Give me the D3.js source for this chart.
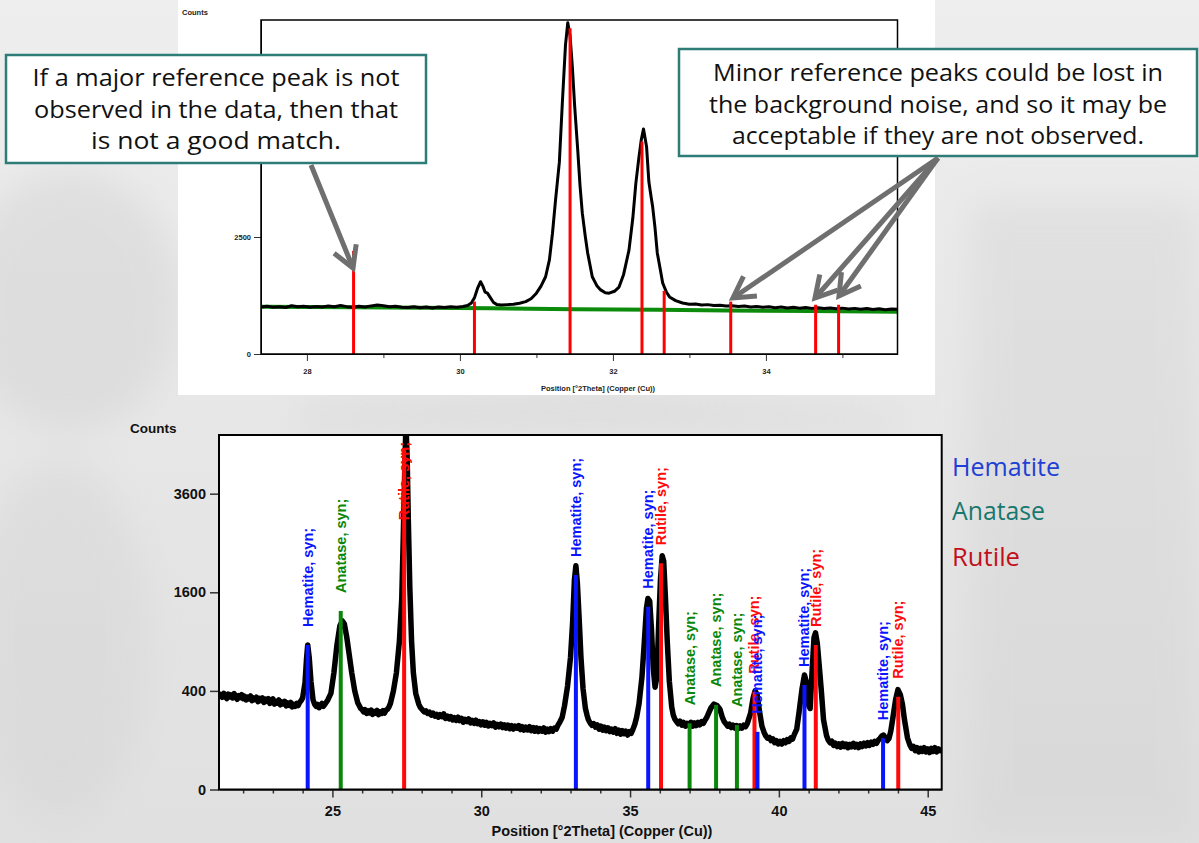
<!DOCTYPE html>
<html><head><meta charset="utf-8">
<script src="https://cdn.jsdelivr.net/npm/d3@7"></script>
<style>html,body{margin:0;padding:0;overflow:hidden;background:#e6e6e6}</style>
</head><body><svg id="c" width="1199" height="843"></svg>
<script>
// ---------- TOP CHART DATA ----------
const topTicksX = [28, 30, 32, 34];
const topMinorX = [29, 31, 33, 35];
const topTicksY = [0, 2500];
const topPattern = [[27.40,1005],[27.48,1020],[27.56,1000],[27.64,1012],[27.72,995],[27.80,1030],[27.88,1008],[27.96,1018],[28.04,1000],[28.12,1015],[28.20,1005],[28.28,1025],[28.36,1010],[28.44,1035],[28.52,1012],[28.60,1000],[28.68,1018],[28.76,1005],[28.84,1028],[28.92,1045],[29.00,1030],[29.08,1010],[29.16,1022],[29.24,1000],[29.32,995],[29.40,1008],[29.48,990],[29.56,1005],[29.64,985],[29.72,1002],[29.80,995],[29.88,1010],[29.96,1000],[30.04,1015],[30.10,1035],[30.15,1090],[30.19,1200],[30.23,1400],[30.27,1545],[30.30,1450],[30.33,1320],[30.36,1300],[30.40,1200],[30.44,1100],[30.48,1060],[30.54,1045],[30.62,1055],[30.70,1065],[30.78,1085],[30.86,1120],[30.93,1180],[31.00,1300],[31.06,1450],[31.12,1650],[31.17,2010],[31.21,2580],[31.25,3290],[31.30,4100],[31.34,5400],[31.38,6600],[31.41,7080],[31.44,6800],[31.47,6130],[31.50,5300],[31.54,4360],[31.57,3600],[31.60,3010],[31.64,2500],[31.67,2160],[31.73,1650],[31.79,1460],[31.84,1370],[31.90,1310],[31.95,1300],[32.02,1340],[32.08,1430],[32.14,1700],[32.21,2220],[32.26,2900],[32.30,3650],[32.34,4200],[32.37,4570],[32.40,4810],[32.44,4430],[32.47,3680],[32.50,3350],[32.52,3140],[32.55,2700],[32.58,2160],[32.62,1800],[32.65,1520],[32.70,1320],[32.74,1220],[32.82,1140],[32.91,1090],[33.00,1065],[33.08,1070],[33.16,1045],[33.24,1055],[33.32,1035],[33.40,1040],[33.48,1025],[33.56,1030],[33.64,1015],[33.72,1025],[33.80,1005],[33.88,1015],[33.96,1000],[34.04,1010],[34.12,990],[34.20,1005],[34.28,985],[34.36,998],[34.44,980],[34.52,995],[34.60,975],[34.68,990],[34.76,970],[34.84,985],[34.92,965],[35.00,980],[35.08,960],[35.16,975],[35.24,955],[35.32,970],[35.40,950],[35.48,965],[35.56,945],[35.64,960],[35.72,955]];
const topBackground = [[27.40,1010],[28.60,1000],[29.50,988],[30.40,975],[31.50,955],[32.60,945],[33.50,930],[34.60,918],[35.72,905]];
const topRefPos = [28.61, 30.19, 31.44, 32.38, 32.67, 33.54, 34.65, 34.95];
const topRefCounts = [2200, 1120, 6960, 4540, 1350, 1120, 1050, 1050];

// ---------- BOTTOM CHART DATA ----------
const botTicksX = [25, 30, 35, 40, 45];
const botMinorX = [22,23,24,26,27,28,29,31,32,33,34,36,37,38,39,41,42,43,44];
const botTicksY = [0, 400, 1600, 3600];
const botPattern = [
[21.20,345],[21.25,372],[21.30,350],[21.35,380],[21.40,358],[21.45,340],[21.50,375],[21.55,352],[21.60,368],[21.65,345],[21.70,378],[21.75,355],[21.80,335],[21.85,362],[21.90,348],[21.95,370],[22.00,340],[22.05,358],[22.10,330],[22.15,352],[22.20,338],[22.25,360],[22.30,325],[22.35,345],[22.40,332],[22.45,350],[22.50,318],[22.55,342],[22.60,325],[22.65,345],[22.70,312],[22.75,336],[22.80,320],[22.85,340],[22.90,305],[22.95,328],[23.00,338],[23.05,300],[23.10,322],[23.15,308],[23.20,330],[23.25,295],[23.30,315],[23.35,302],[23.40,320],[23.45,288],[23.50,308],[23.55,292],[23.60,312],[23.65,280],[23.70,298],[23.75,285],[23.80,305],[23.85,290],[23.90,312],[23.95,325],
[24.00,345],[24.08,470],[24.13,700],[24.17,860],[24.22,720],[24.28,480],[24.35,330],[24.40,300],[24.45,285],[24.50,298],[24.55,275],[24.60,292],[24.65,305],[24.70,285],[24.75,300],[24.80,315],[24.85,332],[24.95,380],[25.05,560],[25.15,850],[25.25,1100],[25.33,1170],[25.40,1130],[25.48,960],[25.56,760],[25.65,560],[25.75,400],
[25.85,310],[25.90,290],[25.95,270],[26.00,262],[26.05,248],[26.10,262],[26.15,238],[26.20,255],[26.25,242],[26.30,260],[26.35,232],[26.40,250],[26.45,240],[26.50,258],[26.55,230],[26.60,248],[26.65,238],[26.70,256],[26.75,240],[26.80,258],[26.85,265],[26.90,280],[26.95,305],
[27.05,400],[27.15,560],[27.25,900],[27.33,1500],[27.38,2600],[27.43,4200],[27.47,5500],[27.51,4600],[27.55,3000],[27.60,1700],[27.66,900],[27.72,560],[27.80,380],
[27.90,300],[27.96,275],[28.02,262],[28.08,248],[28.14,255],[28.20,238],[28.26,246],[28.32,228],[28.38,240],[28.44,222],[28.50,232],[28.56,215],[28.62,230],[28.68,218],[28.74,235],[28.80,208],[28.86,222],[28.92,205],[28.98,218],[29.04,200],[29.10,212],[29.16,196],[29.22,215],[29.28,195],[29.34,208],[29.40,186],[29.46,202],[29.52,190],[29.58,205],[29.64,182],[29.70,196],[29.76,180],[29.82,198],[29.88,178],[29.94,190],[30.00,172],[30.06,188],[30.12,170],[30.18,185],[30.24,166],[30.30,180],[30.36,168],[30.42,182],[30.48,160],[30.54,175],[30.60,162],[30.66,176],[30.72,158],[30.78,172],[30.84,155],[30.90,170],[30.96,152],[31.02,168],[31.08,150],[31.14,165],[31.20,155],[31.26,168],[31.32,148],[31.38,162],[31.44,145],[31.50,160],[31.56,146],[31.62,162],[31.68,142],[31.74,158],[31.80,140],[31.86,156],[31.92,138],[31.98,152],[32.04,140],[32.10,156],[32.16,135],[32.22,150],[32.28,138],[32.34,152],[32.40,140],[32.46,155],[32.52,150],[32.58,170],
[32.65,190],[32.72,215],[32.80,290],[32.90,440],[33.00,720],[33.07,1150],[33.13,1800],[33.18,2060],[33.23,1750],[33.29,1200],[33.35,720],[33.42,420],[33.50,270],
[33.55,230],[33.60,200],[33.66,182],[33.72,170],[33.78,178],[33.84,160],[33.90,172],[33.96,150],[34.02,165],[34.08,145],[34.14,160],[34.20,142],[34.26,156],[34.32,138],[34.38,150],[34.44,135],[34.50,152],[34.56,130],[34.62,145],[34.68,126],[34.74,142],[34.80,128],[34.86,140],[34.92,122],[34.98,138],[35.04,130],[35.10,150],[35.16,175],[35.22,215],
[35.30,300],[35.40,520],[35.48,900],[35.55,1350],[35.60,1500],[35.66,1460],[35.72,1050],[35.78,600],[35.84,430],[35.90,520],[35.96,1100],[36.02,1800],[36.08,2250],[36.13,2150],[36.19,1500],[36.25,900],[36.32,480],[36.40,280],
[36.45,230],[36.50,205],[36.56,190],[36.62,178],[36.68,192],[36.74,170],[36.80,185],[36.86,165],[36.92,180],[36.98,168],[37.04,186],[37.10,165],[37.16,182],[37.22,168],[37.28,185],[37.34,172],[37.40,190],[37.46,180],[37.52,198],[37.58,215],
[37.65,245],[37.72,275],[37.82,300],[37.92,290],[38.02,265],[38.10,215],
[38.16,190],[38.22,178],[38.28,165],[38.34,175],[38.40,158],[38.46,170],[38.52,155],[38.58,168],[38.64,152],[38.70,166],[38.76,155],[38.82,170],[38.88,162],[38.94,180],
[39.05,240],[39.13,340],[39.20,400],[39.27,370],[39.35,250],[39.43,165],
[39.50,135],[39.56,118],[39.62,108],[39.68,112],[39.74,98],[39.80,105],[39.86,90],[39.92,98],[39.98,86],[40.04,95],[40.10,85],[40.16,98],[40.22,90],[40.28,102],[40.34,95],[40.40,110],[40.46,105],[40.52,125],
[40.60,150],[40.68,250],[40.78,420],[40.86,540],[40.93,470],[41.00,290],[41.05,270],[41.12,600],[41.18,950],[41.23,1010],[41.29,880],[41.35,650],[41.42,420],[41.50,200],
[41.60,120],[41.66,100],[41.72,90],[41.78,96],[41.84,80],[41.90,88],[41.96,76],[42.02,86],[42.08,74],[42.14,88],[42.20,76],[42.26,85],[42.32,72],[42.38,84],[42.44,75],[42.50,88],[42.56,74],[42.62,84],[42.68,72],[42.74,86],[42.80,76],[42.86,88],[42.92,78],[42.98,90],[43.04,80],[43.10,92],[43.16,84],[43.22,95],[43.28,88],[43.34,100],[43.40,108],[43.46,118],[43.52,122],[43.58,108],[43.64,98],[43.70,108],[43.76,140],
[43.82,200],[43.92,330],[44.00,410],[44.08,370],[44.15,300],[44.22,200],[44.32,110],
[44.40,82],[44.46,70],[44.52,76],[44.58,62],[44.64,72],[44.70,58],[44.76,70],[44.82,60],[44.88,72],[44.94,58],[45.00,68],[45.06,56],[45.12,70],[45.18,60],[45.24,72],[45.30,58],[45.36,68],[45.42,62],[45.47,70]];
const refPos    = [24.17, 25.28, 27.41, 33.18, 35.61, 36.04, 37.00, 37.89, 38.59, 39.18, 39.28, 40.86, 41.24, 43.50, 44.01];
const refCounts = [859,   1311,  4800,  1893,  1375,  2105,  180,   294,   171,   393,   137,   449,   859,   108,   354];
const refPhase  = ["Hematite","Anatase","Rutile","Hematite","Hematite","Rutile","Anatase","Anatase","Anatase","Rutile","Hematite","Hematite","Rutile","Hematite","Rutile"];
const phases = ["Hematite", "Anatase", "Rutile"];
const stickColors = {Hematite: "#0a14ff", Anatase: "#0a870a", Rutile: "#ff0a0a"};
const legendColors = {Hematite: "#1f40d4", Anatase: "#17786f", Rutile: "#c2101a"};

// ---------- ANNOTATIONS ----------
const leftNote = ["If a major reference peak is not", "observed in the data, then that", "is not a good match."];
const rightNote = ["Minor reference peaks could be lost in", "the background noise, and so it may be", "acceptable if they are not observed."];

const svg = d3.select("#c");
const defs = svg.append("defs");

// background (faded photo look)
const bg = defs.append("linearGradient").attr("id","bg").attr("x1",0).attr("y1",0).attr("x2",0).attr("y2",1);
bg.append("stop").attr("offset","0").attr("stop-color","#eeeeee");
bg.append("stop").attr("offset","1").attr("stop-color","#e0e0e0");
defs.append("filter").attr("id","blur").append("feGaussianBlur").attr("stdDeviation", 18);
svg.append("rect").attr("width",1199).attr("height",843).attr("fill","url(#bg)");
const blobs = svg.append("g").attr("filter","url(#blur)").attr("opacity",0.3);
blobs.append("ellipse").attr("cx",70).attr("cy",300).attr("rx",110).attr("ry",130).attr("fill","#c4c4c4");
blobs.append("ellipse").attr("cx",60).attr("cy",640).attr("rx",90).attr("ry",180).attr("fill","#cccccc");
blobs.append("rect").attr("x",970).attr("y",200).attr("width",230).attr("height",640).attr("fill","#cacaca");
blobs.append("path").attr("d","M300,405 L600,390 L900,415 L900,430 L300,430 Z").attr("fill","#c4c4c4");

// ================= TOP CHART =================
svg.append("rect").attr("x",178).attr("y",0).attr("width",757).attr("height",395).attr("fill","#ffffff");
const tx = d3.scaleLinear().domain([27.4, 35.72]).range([261, 897.5]);
const ty = d3.scaleLinear().domain([0, 7137]).range([354, 20]);
const topG = svg.append("g");
topG.append("defs").append("clipPath").attr("id","clipTop").append("rect")
  .attr("x",261).attr("y",20).attr("width",636.5).attr("height",334);

const tax = topG.append("g").attr("transform","translate(0,354)")
  .call(d3.axisBottom(tx).tickValues(topTicksX).tickSize(7).tickSizeOuter(0).tickFormat(d3.format("d")));
topG.append("g").attr("transform","translate(0,354)")
  .call(d3.axisBottom(tx).tickValues(topMinorX).tickSize(4).tickSizeOuter(0).tickFormat(""))
  .select(".domain").remove();
const tay = topG.append("g").attr("transform","translate(261,0)")
  .call(d3.axisLeft(ty).tickValues(topTicksY).tickSize(7).tickSizeOuter(0).tickFormat(d3.format("d")));
topG.selectAll(".tick text").attr("font-family","Liberation Sans, Arial, sans-serif")
  .attr("font-weight","bold").attr("font-size","7.5px").attr("fill","#222");
tax.selectAll(".tick text").attr("dy","1.3em");
topG.selectAll(".tick line").attr("stroke","#333").attr("stroke-width",1);

const tplot = topG.append("g").attr("clip-path","url(#clipTop)");
const tline = d3.line().x(d=>tx(d[0])).y(d=>ty(d[1]));
tplot.append("path").datum(topBackground).attr("d",tline).attr("fill","none")
  .attr("stroke","#0b8a0b").attr("stroke-width",4);
tplot.append("path").datum(topPattern).attr("d",tline).attr("fill","none")
  .attr("stroke","#000").attr("stroke-width",3).attr("stroke-linejoin","round");
tplot.selectAll("line.ref").data(topRefPos).join("line").attr("class","ref")
  .attr("x1",d=>tx(d)).attr("x2",d=>tx(d)).attr("y1",ty(0))
  .attr("y2",(d,i)=>ty(topRefCounts[i])).attr("stroke","#ff0000").attr("stroke-width",3);
topG.append("rect").attr("x",261).attr("y",20).attr("width",636.5).attr("height",334)
  .attr("fill","none").attr("stroke","#000").attr("stroke-width",1.5);
topG.append("text").attr("x",182).attr("y",15).text("Counts")
  .attr("font-family","Liberation Sans, Arial, sans-serif").attr("font-weight","bold")
  .attr("font-size","7.5px").attr("fill","#222");
topG.append("text").attr("x",598).attr("y",391).attr("text-anchor","middle")
  .text("Position [°2Theta] (Copper (Cu))")
  .attr("font-family","Liberation Sans, Arial, sans-serif").attr("font-weight","bold")
  .attr("font-size","7.5px").attr("fill","#222");

// ================= BOTTOM CHART =================
const bx = d3.scaleLinear().domain([21.19, 45.47]).range([219, 941.7]);
const by = d3.scaleSqrt().domain([0, 5170]).range([789.5, 435]);
const botG = svg.append("g");
botG.append("rect").attr("x",219).attr("y",435).attr("width",722.7).attr("height",354.5).attr("fill","#fff");
botG.append("defs").append("clipPath").attr("id","clipBot").append("rect")
  .attr("x",219).attr("y",435).attr("width",722.7).attr("height",354.5);

const bax = botG.append("g").attr("transform","translate(0,789.5)")
  .call(d3.axisBottom(bx).tickValues(botTicksX).tickSize(8).tickSizeOuter(0).tickFormat(d3.format("d")));
botG.append("g").attr("transform","translate(0,789.5)")
  .call(d3.axisBottom(bx).tickValues(botMinorX).tickSize(4).tickSizeOuter(0).tickFormat(""))
  .select(".domain").remove();
const bay = botG.append("g").attr("transform","translate(219,0)")
  .call(d3.axisLeft(by).tickValues(botTicksY).tickSize(9).tickSizeOuter(0).tickFormat(d3.format("d")));
botG.selectAll(".tick text").attr("font-family","Liberation Sans, Arial, sans-serif")
  .attr("font-weight","bold").attr("font-size","14.5px").attr("fill","#111");
bax.selectAll(".tick text").attr("dy","1.05em");
bay.selectAll(".tick text").attr("dx","-1px");
botG.selectAll(".tick line").attr("stroke","#333").attr("stroke-width",1.5);

const bplot = botG.append("g").attr("clip-path","url(#clipBot)");
const bline = d3.line().x(d=>bx(d[0])).y(d=>by(d[1]));
bplot.append("path").datum(botPattern).attr("d",bline).attr("fill","none")
  .attr("stroke","#000").attr("stroke-width",5.5).attr("stroke-linejoin","round");
bplot.selectAll("line.ref").data(refPos).join("line").attr("class","ref")
  .attr("x1",d=>bx(d)).attr("x2",d=>bx(d)).attr("y1",by(0))
  .attr("y2",(d,i)=>by(refCounts[i]))
  .attr("stroke",(d,i)=>stickColors[refPhase[i]]).attr("stroke-width",4);

botG.append("rect").attr("x",219).attr("y",435).attr("width",722.7).attr("height",354.5)
  .attr("fill","none").attr("stroke","#000").attr("stroke-width",2);

// peak labels
refPos.forEach((p,i)=>{
  const t = botG.append("text").text(refPhase[i] + ", syn;")
    .attr("font-family","Liberation Sans, Arial, sans-serif").attr("font-weight","bold")
    .attr("font-size","14.5px").attr("fill",stickColors[refPhase[i]])
    .attr("dominant-baseline","central");
  const L = t.node().getComputedTextLength();
  const yb = Math.max(by(refCounts[i]) - 18, 435 + 7 + L);
  t.attr("transform",`translate(${bx(p)},${yb}) rotate(-90)`);
});

botG.append("text").attr("x",130).attr("y",433).text("Counts")
  .attr("font-family","Liberation Sans, Arial, sans-serif").attr("font-weight","bold")
  .attr("font-size","13.5px").attr("fill","#111");
botG.append("text").attr("x",602).attr("y",836).attr("text-anchor","middle")
  .text("Position [°2Theta] (Copper (Cu))")
  .attr("font-family","Liberation Sans, Arial, sans-serif").attr("font-weight","bold")
  .attr("font-size","14.5px").attr("fill","#111");

// legend
const legW = {Hematite:108, Anatase:93, Rutile:68};
phases.forEach((ph,i)=>{
  svg.append("text").attr("x",952).attr("y",[476,520,566][i]).text(ph)
    .attr("font-family","Open Sans, Noto Sans, sans-serif").attr("font-size","25px")
    .attr("fill",legendColors[ph]).attr("textLength",legW[ph]).attr("lengthAdjust","spacingAndGlyphs");
});

// ================= CALLOUTS =================
function callout(x,y,w,h,lines,baselines,widths){
  const g = svg.append("g");
  g.append("rect").attr("x",x).attr("y",y).attr("width",w).attr("height",h)
    .attr("fill","#fff").attr("stroke","#2e7c78").attr("stroke-width",2.5);
  lines.forEach((s,i)=>{
    g.append("text").attr("x",x+w/2).attr("y",baselines[i]).attr("text-anchor","middle").text(s)
      .attr("font-family","Open Sans, Noto Sans, sans-serif").attr("font-size","23px").attr("fill","#111")
      .attr("textLength",widths[i]).attr("lengthAdjust","spacingAndGlyphs");
  });
}
callout(6,55,420,108,leftNote,[86,117.5,149],[367,364,250]);
callout(679,49,518,107,rightNote,[81,112.5,144],[450,458,412]);

function arrow(x1,y1,x2,y2){
  const g = svg.append("g").attr("stroke","#6f6f6f").attr("stroke-width",5).attr("fill","none")
    .attr("stroke-linecap","butt").attr("stroke-linejoin","miter");
  g.append("line").attr("x1",x1).attr("y1",y1).attr("x2",x2).attr("y2",y2);
  const a = Math.atan2(y1-y2, x1-x2), L = 24, s = 0.52;
  g.append("polyline").attr("points",[
    [x2+L*Math.cos(a+s), y2+L*Math.sin(a+s)], [x2,y2], [x2+L*Math.cos(a-s), y2+L*Math.sin(a-s)]
  ].map(p=>p.join(",")).join(" "));
}
arrow(311,165,353,268);
arrow(938,158,733,298);
arrow(938,158,815,298);
arrow(938,158,839,296);
</script></body></html>
